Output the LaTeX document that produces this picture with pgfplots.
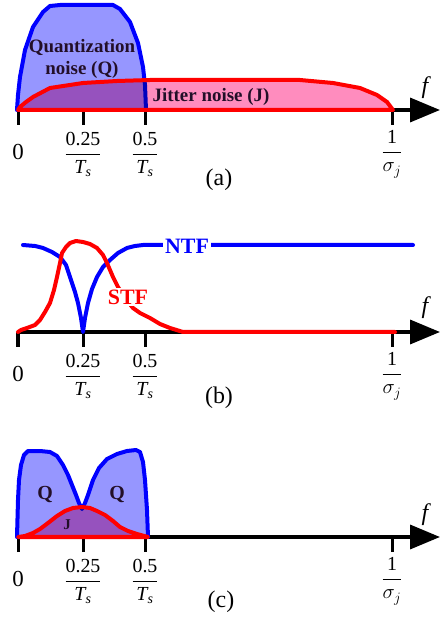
\documentclass[border=0pt]{standalone}
\usepackage{fontspec}
\setmainfont{Liberation Serif}
\usepackage{amsmath}
\usepackage{pgfplots}
\pgfplotsset{compat=1.18}
\usepackage{pgfplotstable}
\usetikzlibrary{arrows.meta}

\definecolor{qfill}{RGB}{150,150,255}
\definecolor{jfill}{RGB}{255,140,190}
\definecolor{qcol}{RGB}{0,0,255}
\definecolor{jcol}{RGB}{255,0,0}
\definecolor{txt}{RGB}{35,15,40}

% panel (a)
\pgfplotstableread{
x y
-1 0
0 15
2 33
7 60
15 83
25 98
32 104
42 105
95 105
102 101
112 88
120 67
125 43
127 25
128 0
}\Qa
\pgfplotstableread{
x y
0 0
2 3
8 8
15 13
32 22
65 27
99 29
132 30
282 30
315 27
342 22
359 15
369 8
375 0
}\Ja
% panel (b)
\pgfplotstableread{
x y
5 87
17 86
25 84
34 80
42 75
48 67
52 55
57 40
60 29
63 14
65 0
67 14
70 29
74 43
79 55
85 65
92 72
100 79
109 84
117 86
125 87
395 87
}\NTF
\pgfplotstableread{
x y
0 0
3 2
9 4
17 7
22 12
27 20
32 29
36 42
39 55
42 69
44 79
48 85
52 89
58 91
65 90
72 88
79 84
85 77
89 69
95 55
100 45
107 34
115 24
122 19
132 14
142 8
152 4
165 0
377 0
}\STF
% panel (c)
\pgfplotstableread{
x y
-1 0
0 37
1 57
3 72
6 82
10 86
22 86
32 85
39 81
45 72
50 62
54 52
58 42
61 34
64 28
67 34
70 42
75 57
81 69
89 78
99 83
109 86
118 87
122 85
125 75
127 57
129 27
130 0
}\Qc
\pgfplotstableread{
x y
0 0
7 1
15 4
22 8
30 14
39 21
47 26
55 29
64 30
72 29
79 26
87 22
95 16
102 10
110 6
119 3
130 0
}\Jc

\newcommand\tlab[1]{\parbox[c][58bp][c]{70bp}{\centering\fontsize{20}{22}\selectfont #1}}
\newcommand\fr[2]{$\displaystyle\frac{\text{#1}}{#2}$}
\newcommand\Ts{\text{\itshape T}_{\text{\itshape s}}}

\pgfplotsset{
  panel/.style={
    scale only axis, width=422bp, xmin=0, xmax=422, ymin=0,
    axis x line=bottom, axis y line=none, clip=false,
    xtick={0,65,127,374},
    xticklabels={\tlab{\raisebox{4bp}{\fontsize{23}{24}\selectfont 0}},
                 \tlab{\fr{0.25}{\Ts}},
                 \tlab{\fr{0.5}{\Ts}},
                 \tlab{\fr{1}{\sigma_j}}},
    xtick align=outside, major tick length=15bp,
    tick style={black, line width=3bp},
    x axis line style={black, line width=3.5bp, -{Triangle[length=30bp,width=24bp]}},
    xticklabel style={anchor=north, inner sep=0pt},
    anchor=south west,
  },
  qln/.style={qcol, line width=4bp, line join=round, line cap=round},
  jln/.style={jcol, line width=4bp, line join=round, line cap=round},
}
\tikzset{
  capt/.style={font=\fontsize{24}{26}\selectfont},
  ffn/.style={font=\fontsize{24}{24}\selectfont\itshape},
}

\begin{document}
\begin{tikzpicture}
\useasboundingbox (0,0) rectangle (444bp,621bp);

% ---------- (a)
\begin{axis}[panel, at={(18bp,511bp)}, ymax=110, height=110bp]
  \addplot[draw=none, fill=qfill] table {\Qa} -- cycle;
  \addplot[qln] table {\Qa};
  \addplot[draw=none, fill=jfill, blend mode=multiply] table {\Ja} -- cycle;
  \addplot[jln] table {\Ja} -- cycle;
  \node[align=center, text=txt, font=\fontsize{19}{22}\selectfont\bfseries] at (axis cs:64,51) {Quantization\\noise (Q)};
  \node[text=txt, font=\fontsize{19}{22}\selectfont\bfseries] at (axis cs:193,13) {Jitter noise (J)};
  \node[ffn] at (axis cs:407,22) {f};
  \node[capt] at (axis cs:201,-70) {(a)};
\end{axis}

% ---------- (b)
\begin{axis}[panel, at={(18bp,289bp)}, ymax=92, height=92bp]
  \addplot[qln] table {\NTF};
  \addplot[jln] table {\STF};
  \node[fill=white, inner sep=2bp, text=qcol, font=\fontsize{22}{22}\selectfont\bfseries] at (axis cs:169,86) {NTF};
  \node[fill=white, inner sep=2bp, text=jcol, font=\fontsize{22}{22}\selectfont\bfseries] at (axis cs:110,35) {STF};
  \node[ffn] at (axis cs:407,24) {f};
  \node[capt] at (axis cs:201,-66) {(b)};
\end{axis}

% ---------- (c)
\begin{axis}[panel, at={(18bp,84bp)}, ymax=90, height=90bp]
  \addplot[draw=none, fill=qfill] table {\Qc} -- cycle;
  \addplot[qln] table {\Qc};
  \addplot[draw=none, fill=jfill, blend mode=multiply] table {\Jc} -- cycle;
  \addplot[jln] table {\Jc} -- cycle;
  \node[text=txt, font=\fontsize{20}{22}\selectfont\bfseries] at (axis cs:27,42) {Q};
  \node[text=txt, font=\fontsize{20}{22}\selectfont\bfseries] at (axis cs:99,42) {Q};
  \node[text=txt, font=\fontsize{15}{16}\selectfont\bfseries] at (axis cs:49,12) {J};
  \node[ffn] at (axis cs:407,22) {f};
  \node[capt] at (axis cs:203,-65) {(c)};
\end{axis}
\end{tikzpicture}
\end{document}
